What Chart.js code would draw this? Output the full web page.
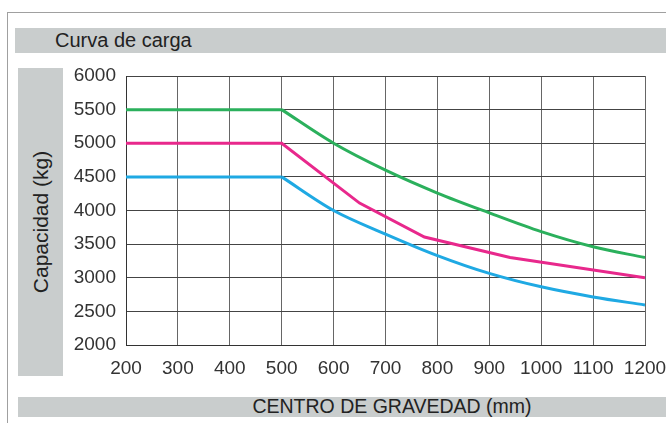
<!DOCTYPE html>
<html>
<head>
<meta charset="utf-8">
<script src="https://cdn.jsdelivr.net/npm/chart.js@4/dist/chart.umd.min.js"></script>
<style>
  body { margin:0; width:666px; height:423px; background:#fff; position:relative; overflow:hidden; font-family: Arial, "Liberation Sans", sans-serif; }
  .frame { position:absolute; left:7px; top:12px; width:660px; height:420px; border-top:1px solid #a0a0a0; border-left:1px solid #a0a0a0; }
  .band { position:absolute; background:#c9cdcd; color:#222; }
  #titleBand { left:15px; top:28px; width:651px; height:25px; }
  #titleBand span { position:absolute; left:40px; top:1px; font-size:20px; }
  #yBand { left:18px; top:68px; width:45px; height:308px; }
  #yBand span { position:absolute; left:50%; top:50%; transform:translate(-50%,-50%) rotate(-90deg); font-size:21px; white-space:nowrap; }
  #xBand { left:18px; top:397px; width:648px; height:20px; }
  #xBand span { position:absolute; left:0; right:0; text-align:center; top:-2px; font-size:19.5px; padding-left:100px; }
  #wrap { position:absolute; left:0; top:0; width:666px; height:423px; }
</style>
</head>
<body>
<div class="frame"></div>
<div class="band" id="titleBand"><span>Curva de carga</span></div>
<div class="band" id="yBand"><span>Capacidad (kg)</span></div>
<div class="band" id="xBand"><span>CENTRO DE GRAVEDAD (mm)</span></div>
<div id="wrap"><canvas id="curva"></canvas></div>
<script>
// centro de gravedad (mm)
var centros = [200, 300, 400, 500, 600, 700, 800, 900, 1000, 1100, 1200];
// capacidad (kg) por curva
var capVerde = [5500, 5500, 5500, 5500, 5000, 4600, 4260, 3965, 3685, 3460, 3300];
var capAzul  = [4500, 4500, 4500, 4500, 4000, 3650, 3330, 3065, 2865, 2715, 2595];
var centrosRosa = [200, 500, 650, 775, 940, 1200];
var capRosa     = [5000, 5000, 4110, 3605, 3300, 3000];
var ticksY = [2000, 2500, 3000, 3500, 4000, 4500, 5000, 5500, 6000];
var ticksX = [200, 300, 400, 500, 600, 700, 800, 900, 1000, 1100, 1200];

var VERDE = '#2bb05c', ROSA = '#e8288c', AZUL = '#1fa9e3';

function puntos(xs, ys){
    var out = [];
    for (var i = 0; i < xs.length; i++) out.push({x: xs[i], y: ys[i]});
    return out;
}

// tramo plano hasta 500 mm y tramo curvo desde 500 mm
function tramos(xs, ys, color){
    var k = xs.indexOf(500);
    return [{
        data: puntos(xs.slice(0, k + 1), ys.slice(0, k + 1)),
        borderColor: color, borderWidth: 3, pointRadius: 0, tension: 0
    }, {
        data: puntos(xs.slice(k), ys.slice(k)),
        borderColor: color, borderWidth: 3, pointRadius: 0,
        cubicInterpolationMode: 'monotone'
    }];
}

var datasets = [].concat(
    tramos(centros, capVerde, VERDE),
    [{ data: puntos(centrosRosa, capRosa), borderColor: ROSA, borderWidth: 3, pointRadius: 0, tension: 0 }],
    tramos(centros, capAzul, AZUL)
);

var tickFont = {family: 'Arial, "Liberation Sans", sans-serif', size: 19};

var ctx = document.getElementById('curva').getContext('2d');
var chart = new Chart(ctx, {
    type: 'line',
    data: { datasets: datasets },
    options: {
        responsive: true,
        maintainAspectRatio: false,
        animation: false,
        layout: { padding: {left: 0, top: 76, right: 21, bottom: 0} },
        plugins: { legend: {display: false}, tooltip: {enabled: false} },
        scales: {
            x: {
                type: 'linear',
                min: 200, max: 1200,
                afterBuildTicks: function(axis){ axis.ticks = ticksX.map(function(v){ return {value: v}; }); },
                afterFit: function(axis){ axis.height = 78; axis.paddingLeft = 0; axis.paddingRight = 0; },
                grid: { color: '#666', drawTicks: false },
                border: { color: '#333', width: 1 },
                ticks: { color: '#333', font: tickFont, padding: 12, maxRotation: 0, autoSkip: false,
                         callback: function(v){ return String(v); } }
            },
            y: {
                min: 2000, max: 6000,
                afterBuildTicks: function(axis){ axis.ticks = ticksY.map(function(v){ return {value: v}; }); },
                afterFit: function(axis){ axis.width = 126; axis.paddingTop = 0; axis.paddingBottom = 0; },
                grid: { color: '#444', drawTicks: false },
                border: { color: '#333', width: 1 },
                ticks: { color: '#333', font: tickFont, padding: 10,
                         callback: function(v){ return String(v); } }
            }
        }
    }
});
</script>
</body>
</html>
